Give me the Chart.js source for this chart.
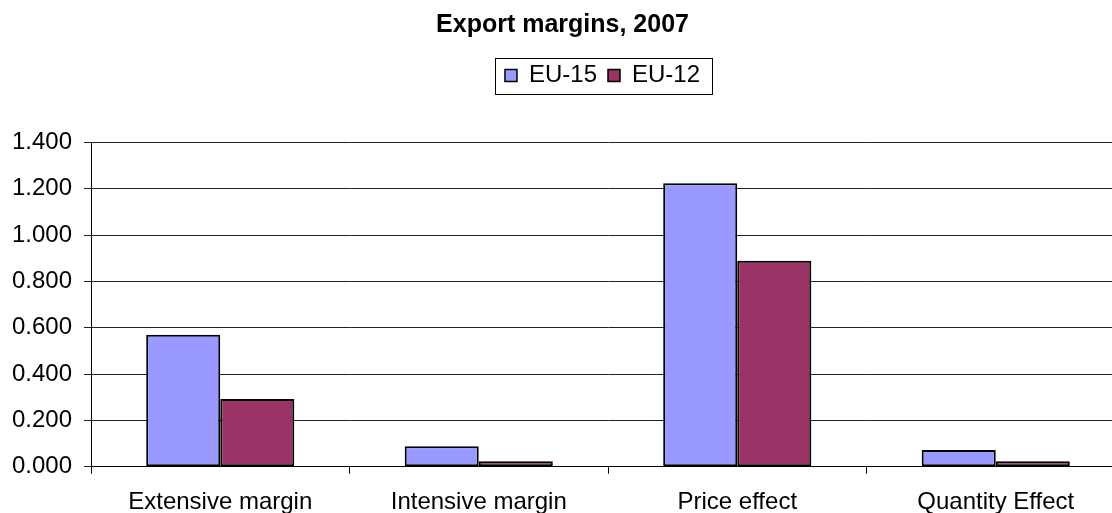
<!DOCTYPE html>
<html>
<head>
<meta charset="utf-8">
<script src="https://cdn.jsdelivr.net/npm/chart.js@4.4.0/dist/chart.umd.min.js"></script>
<style>
  html, body { margin: 0; padding: 0; background: #fff; overflow: hidden; }
  #wrap { width: 1112px; height: 513px; overflow: hidden; }
</style>
</head>
<body>
<div id="wrap">
  <canvas id="barChartMargins" width="1130" height="513"></canvas>
</div>
<script>
var categories = ['Extensive margin', 'Intensive margin', 'Price effect', 'Quantity Effect'];
var valuesEU15 = [0.570, 0.088, 1.224, 0.072];
var valuesEU12 = [0.292, 0.023, 0.889, 0.023];
var yTicks = [0, 0.2, 0.4, 0.6, 0.8, 1.0, 1.2, 1.4];

Chart.defaults.font.family = "'Liberation Sans', Arial, sans-serif";
Chart.defaults.color = '#000';

// legend in the original sits a bit right of the title, inside a box
var legendBox = {
  id: 'legendBox',
  beforeInit: function (chart) {
    var fit = chart.legend.fit;
    chart.legend.fit = function () {
      fit.bind(chart.legend)();
      this.height += 45;
    };
  },
  afterLayout: function (chart) {
    chart.legend.left += 40;
    chart.legend.right += 40;
  },
  afterDraw: function (chart) {
    var hb = chart.legend.legendHitBoxes;
    if (!hb || !hb.length) return;
    var last = hb[hb.length - 1];
    var mid = hb[0].top + hb[0].height / 2;
    var ctx = chart.ctx;
    ctx.save();
    ctx.strokeStyle = '#000';
    ctx.lineWidth = 1;
    ctx.strokeRect(Math.round(hb[0].left - 10) + 0.5, Math.round(mid - 18) + 0.5,
      Math.round(last.left + last.width + 12 - (hb[0].left - 10)), 36);
    ctx.restore();
  }
};

var datasetsMargins = [
  {
    label: 'EU-15',
    data: valuesEU15,
    backgroundColor: '#9999FF',
    borderColor: '#000',
    borderWidth: 2,
    borderSkipped: false
  },
  {
    label: 'EU-12',
    data: valuesEU12,
    backgroundColor: '#993366',
    borderColor: '#000',
    borderWidth: 2,
    borderSkipped: false
  }
];

var configMargins = {
  type: 'bar',
  data: {
    labels: categories,
    datasets: datasetsMargins
  },
  options: {
    responsive: false,
    animation: false,
    categoryPercentage: 0.573,
    barPercentage: 1.0,
    layout: {
      padding: { left: 0, right: 5, top: 0, bottom: 0 }
    },
    plugins: {
      title: {
        display: true,
        text: 'Export margins, 2007',
        font: { size: 25, weight: 'bold' },
        padding: { top: 10, bottom: 12.5 }
      },
      legend: {
        position: 'top',
        labels: {
          boxWidth: 12,
          boxHeight: 12,
          padding: 11,
          font: { size: 24 },
          generateLabels: function (chart) {
            return chart.data.datasets.map(function (ds, i) {
              return {
                text: ds.label,
                fillStyle: ds.backgroundColor,
                strokeStyle: '#000',
                lineWidth: 1.5,
                datasetIndex: i
              };
            });
          }
        }
      },
      tooltip: { enabled: false }
    },
    scales: {
      x: {
        offset: true,
        grid: {
          display: true,
          offset: true,
          drawOnChartArea: false,
          drawTicks: true,
          tickLength: 7,
          color: '#000'
        },
        border: { display: true, color: '#000', width: 1 },
        ticks: {
          font: { size: 24 },
          padding: 14,
          maxRotation: 0,
          autoSkip: false
        },
        afterFit: function (scale) {
          scale.height = 46.3;
        }
      },
      y: {
        min: 0,
        max: 1.4,
        afterBuildTicks: function (scale) {
          scale.ticks = yTicks.map(function (v) { return { value: v }; });
        },
        grid: {
          color: '#222',
          lineWidth: 1,
          drawTicks: true,
          tickLength: 7
        },
        border: { display: true, color: '#000', width: 1 },
        ticks: {
          font: { size: 24 },
          padding: 12,
          callback: function (v) { return Number(v).toFixed(3); }
        },
        afterFit: function (scale) {
          scale.width = 91;
        }
      }
    }
  },
  plugins: [legendBox]
};

function showchart() {
  var ctxMargins = document.getElementById('barChartMargins');
  var chartMargins = Chart.getChart(ctxMargins);
  if (chartMargins) {
    chartMargins.destroy();
  }
  chartMargins = new Chart(ctxMargins, configMargins);
}
showchart();
</script>
</body>
</html>
